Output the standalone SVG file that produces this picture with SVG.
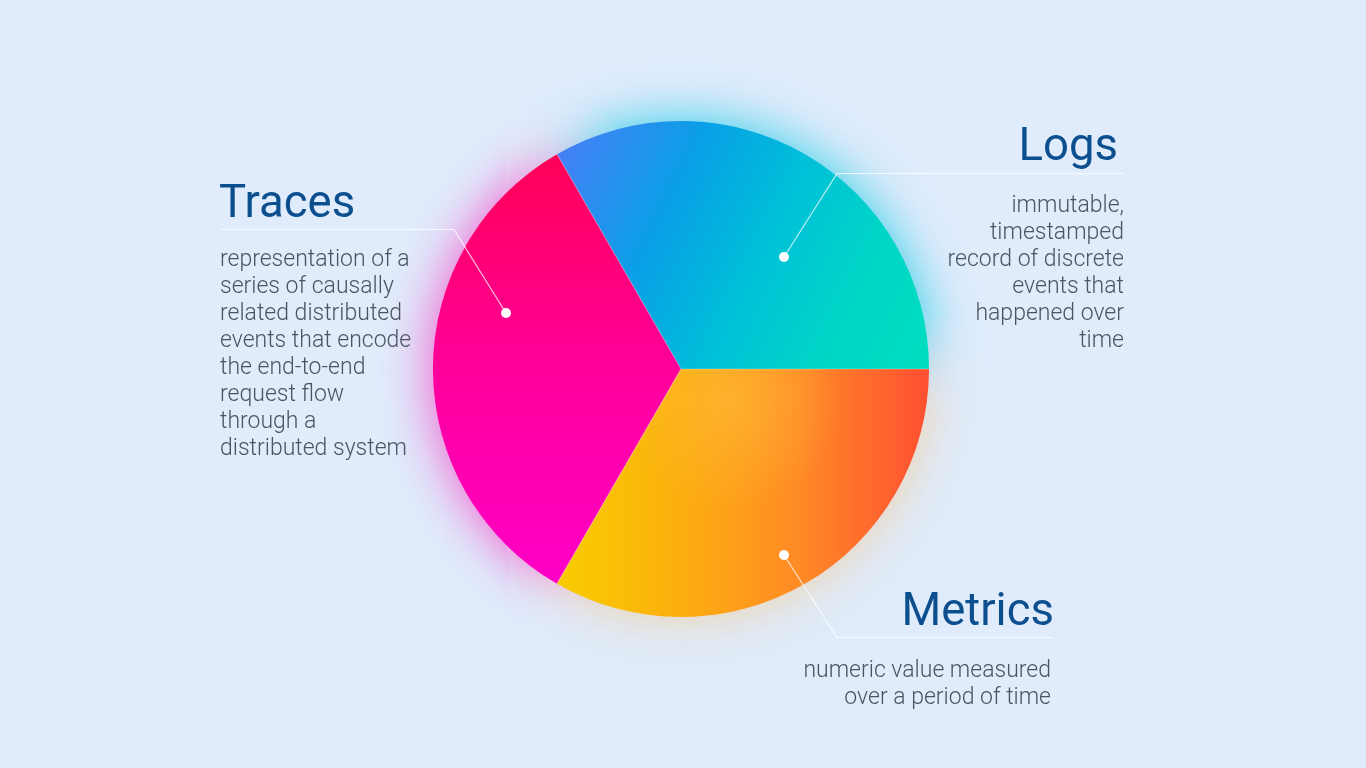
<svg xmlns="http://www.w3.org/2000/svg" width="1366" height="768" viewBox="0 0 1366 768">
<style>
.title{font-family:Roboto,"Liberation Sans",sans-serif;font-weight:400;font-size:45.5px;fill:#0b4f8e}
.body{font-family:Roboto,"Liberation Sans",sans-serif;font-weight:300;font-size:23px;fill:#4a5561}
.leader{fill:none;stroke:#ffffff;stroke-opacity:0.75;stroke-width:1.2}
.dot{fill:#ffffff}
.edge{fill:none;stroke:#ffffff;stroke-opacity:0.25;stroke-width:1.2}
</style>
<defs>
<linearGradient id="gLogs" gradientUnits="userSpaceOnUse" x1="560" y1="150" x2="930" y2="330">
<stop offset="0" stop-color="#4580f6"/>
<stop offset="0.3" stop-color="#08a0e6"/>
<stop offset="0.55" stop-color="#00c0d8"/>
<stop offset="0.8" stop-color="#00d6c6"/>
<stop offset="1" stop-color="#00dcc0"/>
</linearGradient>
<linearGradient id="gTraces" gradientUnits="userSpaceOnUse" x1="0" y1="160" x2="0" y2="585">
<stop offset="0" stop-color="#ff0058"/>
<stop offset="0.5" stop-color="#ff009c"/>
<stop offset="1" stop-color="#ff00c8"/>
</linearGradient>
<linearGradient id="gMetrics" gradientUnits="userSpaceOnUse" x1="560" y1="0" x2="930" y2="0">
<stop offset="0" stop-color="#f8cc00"/>
<stop offset="0.35" stop-color="#fcac10"/>
<stop offset="0.65" stop-color="#ff8a26"/>
<stop offset="1" stop-color="#ff4e32"/>
</linearGradient>
<radialGradient id="gHi" gradientUnits="userSpaceOnUse" cx="730" cy="400" r="110">
<stop offset="0" stop-color="#ffc040" stop-opacity="0.55"/>
<stop offset="1" stop-color="#ffc040" stop-opacity="0"/>
</radialGradient>
<filter id="blur" x="-50%" y="-50%" width="200%" height="200%">
<feGaussianBlur stdDeviation="26"/>
</filter>
</defs>
<rect width="1366" height="768" fill="#e0ecfc"/>
<g id="glow" filter="url(#blur)">
<path d="M681,369 L557,154.2 A248,248 0 0 1 929,369 Z" fill="#00c4e0" opacity="0.8"/>
<path d="M681,369 L557,583.8 A248,248 0 0 1 557,154.2 Z" fill="#ff10b0" opacity="0.65"/>
<path d="M681,369 L929,369 A248,248 0 0 1 557,583.8 Z" fill="#ffb040" opacity="0.45"/>
</g>
<g id="logs-slice">
<path d="M681,369 L557,154.2 A248,248 0 0 1 929,369 Z" fill="url(#gLogs)"/>
</g>
<g id="traces-slice">
<path d="M681,369 L557,583.8 A248,248 0 0 1 557,154.2 Z" fill="url(#gTraces)"/>
</g>
<g id="metrics-slice">
<path d="M681,369 L929,369 A248,248 0 0 1 557,583.8 Z" fill="url(#gMetrics)"/>
<path d="M681,369 L929,369 A248,248 0 0 1 557,583.8 Z" fill="url(#gHi)"/>
</g>
<g id="edges">
<path class="edge" d="M557,154.2 L681,369 L929,369 M681,369 L557,583.8"/>
</g>
<g id="connectors">
<polyline class="leader" points="221,229.5 454,229.5 506,313"/>
<circle class="dot" cx="506" cy="313" r="5"/>
<polyline class="leader" points="784,257 837,173.5 1124,173.5"/>
<circle class="dot" cx="784" cy="257" r="5"/>
<polyline class="leader" points="784,555 837,637.5 1053,637.5"/>
<circle class="dot" cx="784" cy="555" r="5"/>
</g>
<g id="traces">
<text class="title" x="219" y="217">Traces</text>
<text class="body" x="220" y="266">representation of a</text>
<text class="body" x="220" y="293">series of causally</text>
<text class="body" x="220" y="320">related distributed</text>
<text class="body" x="220" y="347">events that encode</text>
<text class="body" x="220" y="374">the end-to-end</text>
<text class="body" x="220" y="401">request flow</text>
<text class="body" x="220" y="428">through a</text>
<text class="body" x="220" y="455">distributed system</text>
</g>
<g id="logs" text-anchor="end">
<text class="title" x="1118" y="160">Logs</text>
<text class="body" x="1124" y="212">immutable,</text>
<text class="body" x="1124" y="239">timestamped</text>
<text class="body" x="1124" y="266">record of discrete</text>
<text class="body" x="1124" y="293">events that</text>
<text class="body" x="1124" y="320">happened over</text>
<text class="body" x="1124" y="347">time</text>
</g>
<g id="metrics" text-anchor="end">
<text class="title" x="1054" y="625">Metrics</text>
<text class="body" x="1051" y="677">numeric value measured</text>
<text class="body" x="1051" y="704">over a period of time</text>
</g>
</svg>
